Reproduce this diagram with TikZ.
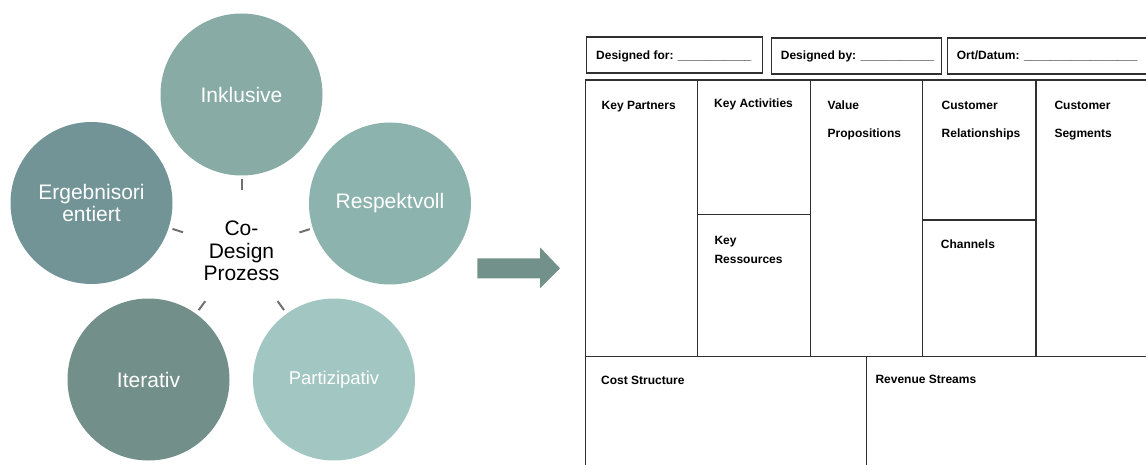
\documentclass[tikz,border=0pt]{standalone}
\usepackage{fontspec}
\setmainfont{Liberation Sans}
\usetikzlibrary{calc}
\definecolor{cInkl}{HTML}{88ABA5}
\definecolor{cResp}{HTML}{8DB3AE}
\definecolor{cPart}{HTML}{A2C6C1}
\definecolor{cIter}{HTML}{738F89}
\definecolor{cErgb}{HTML}{729497}
\definecolor{cArrow}{HTML}{73918B}
\definecolor{cTick}{HTML}{707070}
\definecolor{cLine}{HTML}{303030}
\begin{document}
\begin{tikzpicture}[x=1pt,y=-1pt,
  petal/.style={circle, minimum size=162pt, inner sep=0pt, text=white,
    font=\fontsize{21}{22}\selectfont, align=center},
  hubtext/.style={inner sep=0pt, align=center, font=\fontsize{21}{22.5}\selectfont},
  spoke/.style={draw=cTick, line width=2pt},
  cell/.style={draw=cLine, line width=1.4pt},
  lbl/.style={anchor=base west, inner sep=0pt, align=left,
    font=\fontsize{12}{28}\selectfont\bfseries},
]
\useasboundingbox (0,0) rectangle (1146,465);

% ---- co-design cycle ----
\node[hubtext] (ctr) at (241.5,251) {Co-\\Design\\Prozess};
\node[petal, fill=cInkl] (inkl) at (241.5,94.5) {Inklusive};
\node[petal, fill=cResp] (resp) at (390,203.5) {Respektvoll};
\node[petal, fill=cPart, font=\fontsize{18.5}{20}\selectfont] (part) at (334,379.5) {Partizipativ};
\node[petal, fill=cIter] (iter) at (148.5,379.5) {Iterativ};
\node[petal, fill=cErgb] (ergb) at (91.5,203) {Ergebnisori\\entiert};

\foreach \c in {inkl,resp,part,iter,ergb}
  \draw[spoke] ($(ctr)!0.39!(\c)$) -- ($(ctr)!0.46!(\c)$);

% ---- arrow ----
\fill[cArrow] (477.3,258.3) -- (540,258.3) -- (540,247.3) -- (560,268.3)
  -- (540,288.3) -- (540,278.3) -- (477.3,278.3) -- cycle;

% ---- business model canvas ----
\begin{scope}
\clip (0,0) rectangle (1146,465);
\draw[cell] (586.5,37) rectangle (762.5,73);
\draw[cell] (771.5,38) rectangle (941.5,74);
\draw[cell] (947.5,38) rectangle (1170,74);
\draw[cell] (585.5,80) rectangle (1170,490);
\draw[cell] (585.5,356.5) -- (1170,356.5);
\foreach \x in {697.3,810.5,922.7,1036}
  \draw[cell] (\x,80) -- (\x,356.5);
\draw[cell] (697.3,214.5) -- (810.5,214.5);
\draw[cell] (922.7,220) -- (1036,220);
\draw[cell] (866.5,356.5) -- (866.5,490);
\end{scope}

% multi-line labels are placed by the baseline of their last line
\node[lbl] (dfor) at (596,59.5) {Designed for: \_\_\_\_\_\_\_\_\_\_\_};
\node[lbl] (dby) at (780.7,60) {Designed by: \_\_\_\_\_\_\_\_\_\_\_};
\node[lbl] (ort) at (956.7,60) {Ort/Datum: \_\_\_\_\_\_\_\_\_\_\_\_\_\_\_\_\_};

\node[lbl] (kp) at (601.5,110) {Key Partners};
\node[lbl] (ka) at (714,108) {Key Activities};
\node[lbl] (vp) at (827.5,138) {Value\\Propositions};
\node[lbl] (cr) at (941.5,138) {Customer\\Relationships};
\node[lbl] (cs) at (1054.3,138) {Customer\\Segments};
\node[lbl, font=\fontsize{12}{20}\selectfont\bfseries] (kr) at (714.3,264) {Key\\Ressources};
\node[lbl] (ch) at (940.7,248) {Channels};
\node[lbl] (cst) at (601,384) {Cost Structure};
\node[lbl] (rev) at (875.3,383) {Revenue Streams};
\end{tikzpicture}
\end{document}
